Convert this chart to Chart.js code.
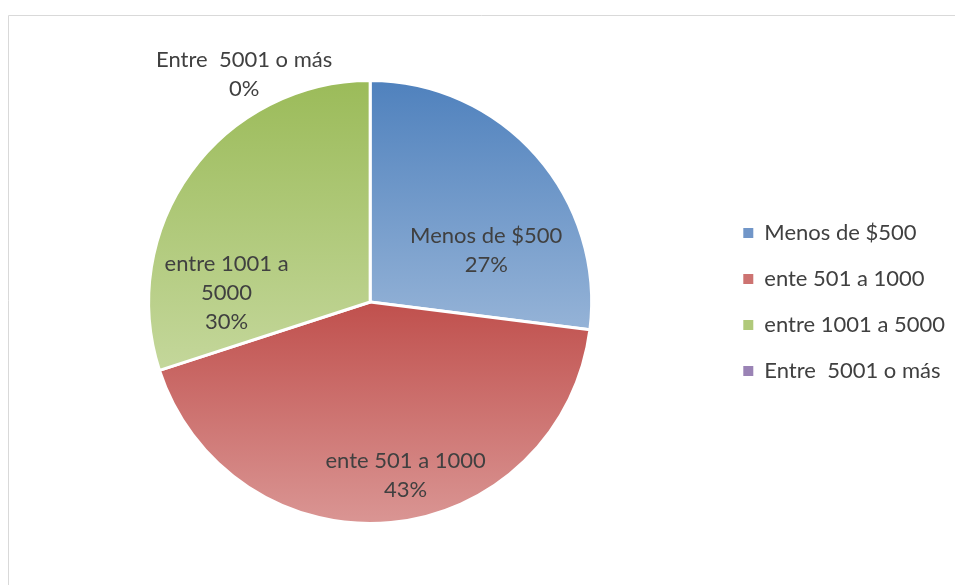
<!DOCTYPE html>
<html>
<head>
<meta charset="utf-8">
<script src="https://cdn.jsdelivr.net/npm/chart.js@4/dist/chart.umd.min.js"></script>
<style>
  html, body { margin: 0; padding: 0; background: #fff; }
  #wrap { position: relative; width: 955px; height: 585px; }
</style>
</head>
<body>
<div id="wrap"><canvas id="myChart" width="955" height="585"></canvas></div>
<script>
// data
const labels = ["Menos de $500", "ente 501 a 1000", "entre 1001 a 5000", "Entre  5001 o más"];
const values = [27, 43, 30, 0];

// gradient stops per slice (top colour, bottom colour)
const topColors = ["#4F81BD", "#C0504D", "#9BBB59", "#8064A2"];
const bottomColors = ["#95B3D7", "#DA9694", "#C4D79B", "#B3A2C7"];
const midColors = ["#7196C8", "#CD7371", "#B0C97A", "#9A83B5"];

const FONT = "Lato, 'Open Sans', sans-serif";

// vertical extent of a slice, from the data and the chart area
function sliceExtent(chart, index) {
  const area = chart.chartArea;
  const cx = (area.left + area.right) / 2;
  const cy = (area.top + area.bottom) / 2;
  const r = Math.min(area.right - area.left, area.bottom - area.top) / 2;
  const total = values.reduce((a, b) => a + b, 0);
  let cum = 0;
  for (let i = 0; i < index; i++) cum += values[i];
  const a0 = -Math.PI / 2 + 2 * Math.PI * cum / total;
  const a1 = a0 + 2 * Math.PI * values[index] / total;
  let minY = cy, maxY = cy;
  for (let k = 0; k <= 60; k++) {
    const a = a0 + (a1 - a0) * k / 60;
    const y = cy + r * Math.sin(a);
    minY = Math.min(minY, y);
    maxY = Math.max(maxY, y);
  }
  return [minY, maxY];
}

function sliceFill(ctx) {
  const chart = ctx.chart;
  const i = ctx.dataIndex;
  if (!chart.chartArea) return midColors[i];
  const [y0, y1] = sliceExtent(chart, i);
  if (y1 - y0 < 1) return midColors[i];
  const g = chart.ctx.createLinearGradient(0, y0, 0, y1);
  g.addColorStop(0, topColors[i]);
  g.addColorStop(1, bottomColors[i]);
  return g;
}

// thin grey frame like the office chart border
const framePlugin = {
  id: 'frame',
  beforeDraw(chart) {
    const c = chart.ctx;
    c.save();
    c.strokeStyle = '#D9D9D9';
    c.lineWidth = 1;
    c.beginPath();
    c.moveTo(8.5, chart.height);
    c.lineTo(8.5, 15.5);
    c.lineTo(chart.width, 15.5);
    c.stroke();
    c.restore();
  }
};

// labels inside / outside the slices: name + percentage
const sliceLabels = {
  id: 'sliceLabels',
  afterDatasetsDraw(chart, args, opts) {
    const c = chart.ctx;
    const meta = chart.getDatasetMeta(0);
    const total = values.reduce((a, b) => a + b, 0);
    c.save();
    c.font = opts.size + "px " + FONT;
    c.fillStyle = '#404040';
    c.textAlign = 'center';
    c.textBaseline = 'middle';
    meta.data.forEach((arc, i) => {
      const p = arc.tooltipPosition();
      const off = opts.offsets[i];
      const x = p.x + off[0], y = p.y + off[1];
      // simple word wrap
      let lines = [labels[i]];
      if (opts.wrap[i]) {
        lines = [];
        let cur = '';
        labels[i].split(' ').forEach(w => {
          const t = cur ? cur + ' ' + w : w;
          if (cur && c.measureText(t).width > opts.wrap[i]) { lines.push(cur); cur = w; }
          else cur = t;
        });
        lines.push(cur);
      }
      lines.push(Math.round(values[i] / total * 100) + '%');
      const lh = opts.lineHeight;
      const startY = y - (lines.length - 1) * lh / 2;
      lines.forEach((ln, k) => c.fillText(ln, x, startY + k * lh));
    });
    c.restore();
  }
};

new Chart(document.getElementById("myChart"), {
  type: 'pie',
  data: {
    labels: labels,
    datasets: [{
      data: values,
      backgroundColor: sliceFill,
      borderColor: '#FFFFFF',
      borderWidth: 3
    }]
  },
  plugins: [framePlugin, sliceLabels],
  options: {
    responsive: false,
    animation: false,
    layout: { padding: { left: 21, right: 0, top: 79, bottom: 60 } },
    plugins: {
      tooltip: { enabled: false },
      legend: {
        position: 'right',
        labels: {
          font: { family: FONT, size: 22 },
          color: '#404040',
          boxWidth: 10,
          boxHeight: 10,
          padding: 24,
          generateLabels(chart) {
            const items = Chart.overrides.pie.plugins.legend.labels.generateLabels(chart);
            items.forEach((it, i) => { it.fillStyle = midColors[i]; it.strokeStyle = midColors[i]; it.lineWidth = 0; });
            return items;
          }
        }
      },
      sliceLabels: {
        size: 22,
        lineHeight: 29,
        offsets: [[33, 22], [25, 63], [-54, 56], [-126, -117]],
        wrap: [0, 0, 130, 0]
      }
    }
  }
});
</script>
</body>
</html>
